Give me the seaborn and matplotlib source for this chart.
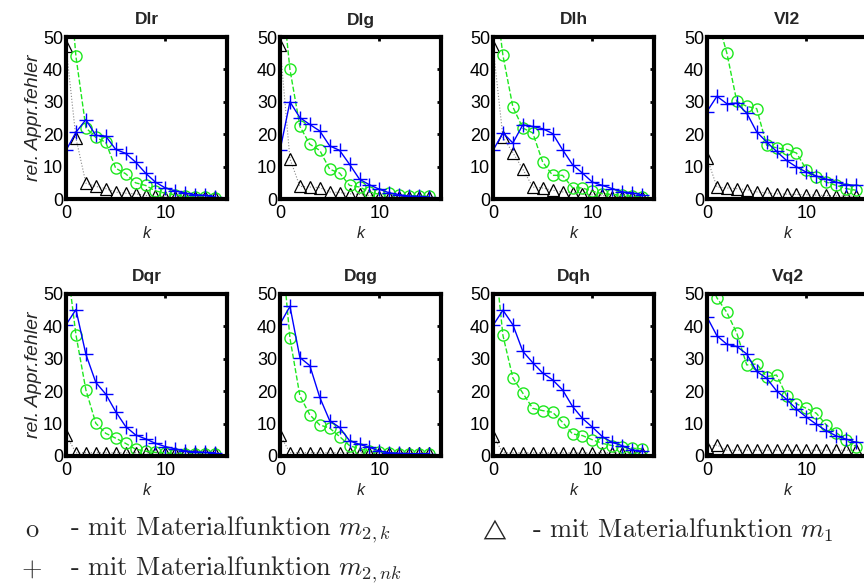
import matplotlib
matplotlib.use("Agg")
import matplotlib.pyplot as plt
import seaborn as sns
import pandas as pd

k = list(range(16))

titles = ["Dlr", "Dlg", "Dlh", "Vl2", "Dqr", "Dqg", "Dqh", "Vq2"]

Dlr_o = [80, 44, 22, 19, 17.5, 9.5, 7.8, 5, 4.2, 2.5, 1.8, 1.3, 0.9, 0.6, 0.6, 0.4]
Dlr_p = [15, 20.6, 24.5, 19.6, 19.4, 15.3, 14.1, 11.4, 8, 5.2, 3.4, 2.5, 1.8, 1.3, 1.1, 0.6]
Dlr_t = [47.2, 18.8, 4.9, 3.9, 3.2, 2.1, 1.8, 1.6, 1.1, 0.8, 0.6, 0.5, 0.5, 0.5, 0.5, 0.5]

Dlg_o = [70, 40, 22.4, 16.9, 15, 9.2, 8, 4.2, 3.7, 2.2, 1.4, 1.8, 1.1, 1.0, 0.9, 0.8]
Dlg_p = [15, 30, 25.1, 23, 21, 16.4, 15, 10.7, 6.1, 4.4, 3, 1.9, 1.3, 0.9, 0.8, 0.6]
Dlg_t = [47.4, 12.4, 3.9, 3.7, 3.5, 2.2, 2.0, 1.6, 1.4, 1.1, 0.7, 0.7, 0.7, 0.7, 0.7, 0.7]

Dlh_o = [69, 44.3, 28.4, 21.9, 20.4, 11.4, 7.3, 7.3, 3.5, 3.4, 2.4, 1.6, 1.4, 1.1, 0.9, 0.6]
Dlh_p = [15, 20.4, 17.3, 22.9, 22.4, 21.7, 20.2, 15.2, 10.6, 8, 5.2, 4.2, 3.2, 2.2, 1.9, 1.3]
Dlh_t = [47.2, 19.1, 14.3, 9.2, 3.7, 3.4, 2.7, 2.2, 2.0, 1.6, 1.3, 1.1, 0.7, 0.7, 0.7, 0.7]

Vl2_o = [80, 56, 45, 30.1, 28.6, 27.9, 16.6, 15.8, 15.3, 14.2, 9.1, 6.8, 5.2, 4.2, 3.2, 2.7]
Vl2_p = [27, 31.7, 29.4, 29.6, 26.5, 20.7, 17.6, 14.7, 11.9, 9.9, 8.3, 7.1, 6.1, 5.2, 4.4, 4.2]
Vl2_t = [12.7, 3.7, 3.4, 3.2, 2.9, 2.2, 1.9, 1.6, 1.5, 1.4, 1.3, 1.2, 1.1, 1.0, 0.9, 0.9]

Dqr_o = [62, 37.4, 20.4, 10.1, 7, 5.5, 3.9, 2.1, 1.5, 1.1, 1, 0.6, 0.5, 0.5, 0.5, 0.5]
Dqr_p = [40.5, 45.2, 31.4, 22.7, 19.1, 13.7, 9.1, 6.5, 5.3, 3.9, 2.9, 2.2, 1.5, 1.3, 1.1, 1.0]
Dqr_t = [6.5, 1.0, 1.0, 1.0, 1.0, 1.0, 1.0, 1.0, 1.0, 1.0, 1.0, 1.0, 1.0, 1.0, 1.0, 1.0]

Dqg_o = [70, 36.4, 18.6, 12.7, 9.6, 8.6, 6, 3.2, 2.2, 1.6, 1.3, 0.8, 0.7, 0.7, 0.7, 0.7]
Dqg_p = [40.7, 46.2, 30.4, 27.9, 18.1, 10.9, 8.8, 4.7, 3.6, 2.7, 1.5, 1.0, 0.8, 0.7, 0.7, 0.7]
Dqg_t = [6.5, 1.0, 1.0, 1.0, 1.0, 1.0, 1.0, 1.0, 1.0, 1.0, 1.0, 1.0, 1.0, 1.0, 1.0, 1.0]

Dqh_o = [67, 37.2, 24.1, 19.4, 14.7, 14, 13.5, 10.4, 6.8, 6.3, 5, 3.9, 3.2, 2.7, 2.4, 2.2]
Dqh_p = [40.3, 45, 40.5, 32.3, 28.8, 25.6, 23.5, 20.4, 15.3, 11.6, 8.9, 6, 4.2, 3.2, 1.9, 1.4]
Dqh_t = [6.3, 1.0, 1.0, 1.0, 1.0, 1.0, 1.0, 1.0, 1.0, 1.0, 1.0, 1.0, 1.0, 1.0, 1.0, 1.0]

Vq2_o = [56, 48.8, 44.3, 37.9, 28.1, 28.4, 24.5, 25, 18.6, 16.1, 14.7, 13.2, 9.6, 7.2, 4.9, 2.9]
Vq2_p = [42.9, 37.1, 34.5, 33.8, 31.5, 26.1, 24, 20.1, 17.5, 14.5, 12, 9.8, 7.8, 6.2, 5.2, 4.2]
Vq2_t = [2.9, 3.4, 1.8, 1.8, 1.8, 1.8, 1.8, 1.8, 1.8, 1.8, 1.8, 1.8, 1.8, 1.8, 1.8, 1.8]

series_o = [Dlr_o, Dlg_o, Dlh_o, Vl2_o, Dqr_o, Dqg_o, Dqh_o, Vq2_o]
series_p = [Dlr_p, Dlg_p, Dlh_p, Vl2_p, Dqr_p, Dqg_p, Dqh_p, Vq2_p]
series_t = [Dlr_t, Dlg_t, Dlh_t, Vl2_t, Dqr_t, Dqg_t, Dqh_t, Vq2_t]

sns.set_theme(style="white")
plt.rcParams["font.family"] = ["Liberation Sans", "DejaVu Sans"]
plt.rcParams["mathtext.fontset"] = "cm"

fig = plt.figure(figsize=(8.64, 5.88), dpi=100)

W, H = 864.0, 588.0
lefts = [66, 280, 493, 707]
tops = [37, 294]
aw, ah = 161, 162

green = "#1ee81e"
blue = "#0000ff"

for i, name in enumerate(titles):
    r, c = divmod(i, 4)
    ax = fig.add_axes([lefts[c] / W, 1 - (tops[r] + ah) / H, aw / W, ah / H])
    df = pd.DataFrame({"k": k, "o": series_o[i], "p": series_p[i], "t": series_t[i]})
    sns.lineplot(data=df, x="k", y="t", ax=ax, color="#888888", linestyle=":",
                 linewidth=0.8, marker="^", markersize=8, markerfacecolor="none",
                 markeredgecolor="black", markeredgewidth=0.9)
    sns.lineplot(data=df, x="k", y="o", ax=ax, color=green, linestyle="--",
                 linewidth=1.0, marker="o", markersize=8, markerfacecolor="none",
                 markeredgecolor=green, markeredgewidth=1.0, dashes=(7, 6))
    sns.lineplot(data=df, x="k", y="p", ax=ax, color=blue, linestyle="-",
                 linewidth=1.0, marker="+", markersize=10, markeredgecolor=blue,
                 markeredgewidth=1.0)
    ax.set_xlim(0, 16.2)
    ax.set_ylim(0, 50)
    ax.set_xticks([0, 10])
    ax.set_yticks([0, 10, 20, 30, 40, 50])
    ax.tick_params(direction="in", length=3, width=2, top=True, right=True,
                   labelsize=13, colors="black")
    ax.tick_params(axis="y", pad=2)
    ax.tick_params(axis="x", pad=4)
    for s in ax.spines.values():
        s.set_linewidth(3.0)
        s.set_color("black")
        s.set_visible(True)
    ax.set_title(name, fontsize=12.5, fontweight="bold", pad=9)
    ax.set_xlabel("k", fontsize=11.5, style="italic", labelpad=3)
    if c == 0:
        ax.set_ylabel("rel. Appr.fehler", fontsize=14, style="italic", labelpad=1)
    else:
        ax.set_ylabel("")
    ax.grid(False)
    ax.set_facecolor("white")

fs = 19
fig.text(32 / W, 1 - 530 / H, "o", fontsize=fs, family="cmr10", va="center", ha="center")
fig.text(70 / W, 1 - 530 / H, "- mit Materialfunktion $m_{2,k}$", fontsize=fs,
         family="cmr10", va="center", ha="left")
fig.text(493 / W, 1 - 529 / H, r"$\triangle$", fontsize=15, va="center", ha="center")
fig.text(532 / W, 1 - 530 / H, "- mit Materialfunktion $m_1$", fontsize=fs,
         family="cmr10", va="center", ha="left")
fig.text(32 / W, 1 - 570 / H, "+", fontsize=fs, family="cmr10", va="center", ha="center")
fig.text(70 / W, 1 - 570 / H, "- mit Materialfunktion $m_{2,nk}$", fontsize=fs,
         family="cmr10", va="center", ha="left")

fig.savefig("out.png", dpi=100, facecolor="white")
